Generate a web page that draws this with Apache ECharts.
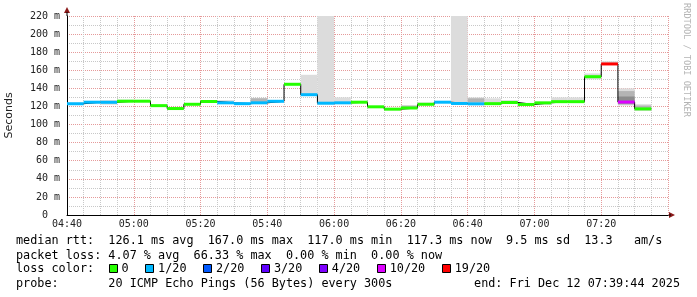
<!DOCTYPE html>
<html><head><meta charset="utf-8">
<script src="https://cdn.jsdelivr.net/npm/echarts/dist/echarts.min.js"></script>
<style>html,body{margin:0;padding:0;background:#fff}#c{width:697px;height:297px}</style>
</head><body><div id="c"></div>
<script>
// ---- data ----
const stepStart = ['04:40','04:45','04:50','04:55','05:00','05:05','05:10','05:15','05:20','05:25','05:30','05:35',
  '05:40','05:45','05:50','05:55','06:00','06:05','06:10','06:15','06:20','06:25','06:30','06:35',
  '06:40','06:45','06:50','06:55','07:00','07:05','07:10','07:15','07:20','07:25','07:30'];
const stepLengthMin = 5;
const medianMs = [123.0,124.7,124.6,125.8,125.8,120.9,117.7,122.4,125.5,124.0,123.1,124.0,
  125.7,144.5,133.0,123.6,124.0,124.7,119.6,117.0,118.3,122.4,124.7,123.3,
  122.9,123.1,124.4,122.2,124.0,125.3,125.3,152.9,167.0,124.9,117.3];
const lossPings = [1,1,1,0,0,0,0,0,0,1,1,1, 1,0,1,1,1,0,0,0,0,0,1,1, 1,0,0,0,0,0,0,0,19,10,0];
const smokeLow  = [122.3,123.2,122.0,125.0,125.0,120.0,117.0,121.5,124.5,123.0,122.5,123.0,
  125.0,144.0,132.0,122.5,123.0,124.0,119.0,116.0,117.5,121.5,124.0,122.5,
  122.0,122.5,123.5,121.5,122.0,124.8,124.8,150.0,166.0,121.0,115.0];
const smokeHigh = [124.0,126.0,127.0,127.5,127.0,121.5,118.5,123.0,126.5,127.0,124.0,129.5,
  127.0,146.0,155.0,220.0,130.0,126.0,120.5,118.0,121.0,124.0,125.5,220.0,
  130.0,129.0,127.0,123.0,124.5,130.0,130.0,156.5,170.0,140.0,122.5];
const smokeMidLow  = [null,null,null,null,null,null,null,null,null,null,null,123.5,
  null,null,null,null,null,null,null,null,119.0,123.0,null,null,
  124.5,null,null,null,122.5,null,null,null,null,122.0,116.5];
const smokeMidHigh = [null,null,null,null,null,null,null,null,null,null,null,129.0,
  null,null,null,null,null,null,null,null,121.0,124.0,null,null,
  129.0,null,null,null,123.5,null,null,null,null,137.0,121.0];
const smokeDarkLow  = [null,null,null,null,null,null,null,null,null,null,null,null,
  null,null,null,null,null,null,null,null,null,null,null,null,
  null,null,null,null,null,null,null,null,null,123.0,null];
const smokeDarkHigh = [null,null,null,null,null,null,null,null,null,null,null,null,
  null,null,null,null,null,null,null,null,null,null,null,null,
  null,null,null,null,null,null,null,null,null,131.0,null];

const xTickLabels = ['04:40','05:00','05:20','05:40','06:00','06:20','06:40','07:00','07:20',''];
const yTickLabels = ['0  ','20 m','40 m','60 m','80 m','100 m','120 m','140 m','160 m','180 m','200 m','220 m'];
const lossLegendLabels = ['0','1/20','2/20','3/20','4/20','10/20','19/20'];
const lossLegendValues = [0,1,2,3,4,10,19];
const lossLegendColors = ['#26ff00','#00b8ff','#0059ff','#5e00ff','#7e00ff','#dd00ff','#ff0000'];
const legendLines = [
  'median rtt:  126.1 ms avg  167.0 ms max  117.0 ms min  117.3 ms now  9.5 ms sd  13.3   am/s',
  'packet loss: 4.07 % avg  66.33 % max  0.00 % min  0.00 % now',
  'loss color:',
  'probe:       20 ICMP Echo Pings (56 Bytes) every 300s'
];
const endText = 'end: Fri Dec 12 07:39:44 2025';
const creditText = 'RRDTOOL / TOBI OETIKER';

// ---- layout ----
const G = {left: 67, top: 16, right: 29, bottom: 82};
const startMin = 4*60 + 40;
const toMin = s => { const [h, m] = s.split(':').map(Number); return h*60 + m - startMin; };
const colorFor = n => { let c = lossLegendColors[0]; lossLegendValues.forEach((v,i)=>{ if (n >= v) c = lossLegendColors[i]; }); return c; };

const band = (lo, hi) => stepStart.map((s,i) => lo[i] == null ? null : [toMin(s), toMin(s)+stepLengthMin, lo[i], hi[i]]).filter(Boolean);
const rectItem = fill => (params, api) => {
  const p0 = api.coord([api.value(0), api.value(3)]);
  const p1 = api.coord([api.value(1), api.value(2)]);
  return {type:'rect', shape:{x:p0[0], y:p0[1], width:p1[0]-p0[0], height:p1[1]-p0[1]}, style:{fill}};
};
const smokeSeries = (data, fill) => ({type:'custom', data, renderItem: rectItem(fill), encode:{x:[0,1], y:[2,3]}, silent:true, animation:false, clip:true});

const medianSeg = stepStart.map((s,i) => [toMin(s), toMin(s)+stepLengthMin, medianMs[i], lossPings[i]]);
const stepLine = stepStart.map((s,i) => [toMin(s), medianMs[i]]);
stepLine.push([toMin(stepStart[stepStart.length-1]) + stepLengthMin, medianMs[medianMs.length-1]]);

const mono = '"DejaVu Sans Mono", monospace';
const LF = '11.8px ' + mono;
const CW = 7.1;
const chart = echarts.init(document.getElementById('c'), null, {renderer:'canvas'});
const W = 697, H = 297;
const plotRight = W - G.right, plotBottom = H - G.bottom;

const graphics = [];
// axis arrows
graphics.push({type:'polygon', shape:{points:[[G.left-3, G.top-3],[G.left+3, G.top-3],[G.left, G.top-9]]}, style:{fill:'#8b1a1a'}});
graphics.push({type:'polygon', shape:{points:[[plotRight+1, plotBottom-3],[plotRight+1, plotBottom+3],[plotRight+7, plotBottom]]}, style:{fill:'#8b1a1a'}});
graphics.push({type:'line', shape:{x1:G.left, y1:G.top-4, x2:G.left, y2:G.top}, style:{stroke:'#000', lineWidth:1}});
graphics.push({type:'line', shape:{x1:plotRight, y1:plotBottom, x2:plotRight+3, y2:plotBottom}, style:{stroke:'#000', lineWidth:1}});
// credit
graphics.push({type:'text', x:686, y:60, rotation:-Math.PI/2, style:{text:creditText, font:'8.6px ' + mono, fill:'#b4b4b4', align:'center', verticalAlign:'middle'}});
// legend lines
const lineY = [241, 255.7, 269, 283.7];
legendLines.forEach((t,i) => graphics.push({type:'text', x:16, y:lineY[i], style:{text:t, font:LF, fill:'#000', verticalAlign:'middle'}}));
graphics.push({type:'text', x:680, y:lineY[3], style:{text:endText, font:LF, fill:'#000', align:'right', verticalAlign:'middle'}});
let bx = 108.5;
lossLegendLabels.forEach((lab,i) => {
  graphics.push({type:'rect', shape:{x:Math.round(bx)+0.5, y:lineY[2]-4.5, width:8, height:8}, style:{fill:lossLegendColors[i], stroke:'#000', lineWidth:1}});
  graphics.push({type:'text', x:bx+13, y:lineY[2], style:{text:lab, font:LF, fill:'#000', verticalAlign:'middle'}});
  bx += 13 + lab.length*CW + 16.5;
});

chart.setOption({
  animation:false,
  backgroundColor:'#fff',
  grid:{left:G.left, top:G.top, right:G.right, bottom:G.bottom, containLabel:false, outerBoundsMode:'none'},
  xAxis:{type:'value', min:0, max:180, interval:20,
    axisLine:{show:true, onZero:false, lineStyle:{color:'#000', width:1}},
    axisTick:{show:false},
    axisLabel:{margin:4, fontFamily:'DejaVu Sans Mono', fontSize:10, color:'#222', formatter:v => xTickLabels[v/20] || ''},
    splitLine:{show:true, lineStyle:{color:'#e59a9a', type:[1,1], width:1}},
    minorTick:{show:false, splitNumber:4},
    minorSplitLine:{show:true, lineStyle:{color:'#c8c8c8', type:[1,1], width:1}}},
  yAxis:{type:'value', min:0, max:220, interval:20,
    name:'Seconds', nameLocation:'middle', nameGap:52, nameRotate:90,
    nameTextStyle:{fontFamily:'DejaVu Sans', fontSize:11, color:'#222'},
    axisLine:{show:true, lineStyle:{color:'#000', width:1}},
    axisTick:{show:false},
    axisLabel:{margin:7, fontFamily:'DejaVu Sans Mono', fontSize:10, color:'#222', formatter:v => yTickLabels[v/20]},
    splitLine:{show:true, lineStyle:{color:'#e59a9a', type:[1,1], width:1}},
    minorTick:{show:false, splitNumber:2},
    minorSplitLine:{show:true, lineStyle:{color:'#c8c8c8', type:[1,1], width:1}}},
  series:[
    smokeSeries(band(smokeLow, smokeHigh), '#dcdcdc'),
    smokeSeries(band(smokeMidLow, smokeMidHigh), '#b4b4b4'),
    smokeSeries(band(smokeDarkLow, smokeDarkHigh), '#8c8c8c'),
    {type:'line', data:stepLine, step:'end', symbol:'none', lineStyle:{color:'#000', width:1}, silent:true, z:3},
    {type:'custom', data:medianSeg, encode:{x:[0,1], y:2}, silent:true, z:4,
      renderItem:(params, api) => {
        const p0 = api.coord([api.value(0), api.value(2)]);
        const p1 = api.coord([api.value(1), api.value(2)]);
        return {type:'rect', shape:{x:p0[0], y:p0[1]-1.5, width:p1[0]-p0[0], height:3}, style:{fill:colorFor(api.value(3))}};
      }}
  ],
  graphic:graphics
});
</script></body></html>
